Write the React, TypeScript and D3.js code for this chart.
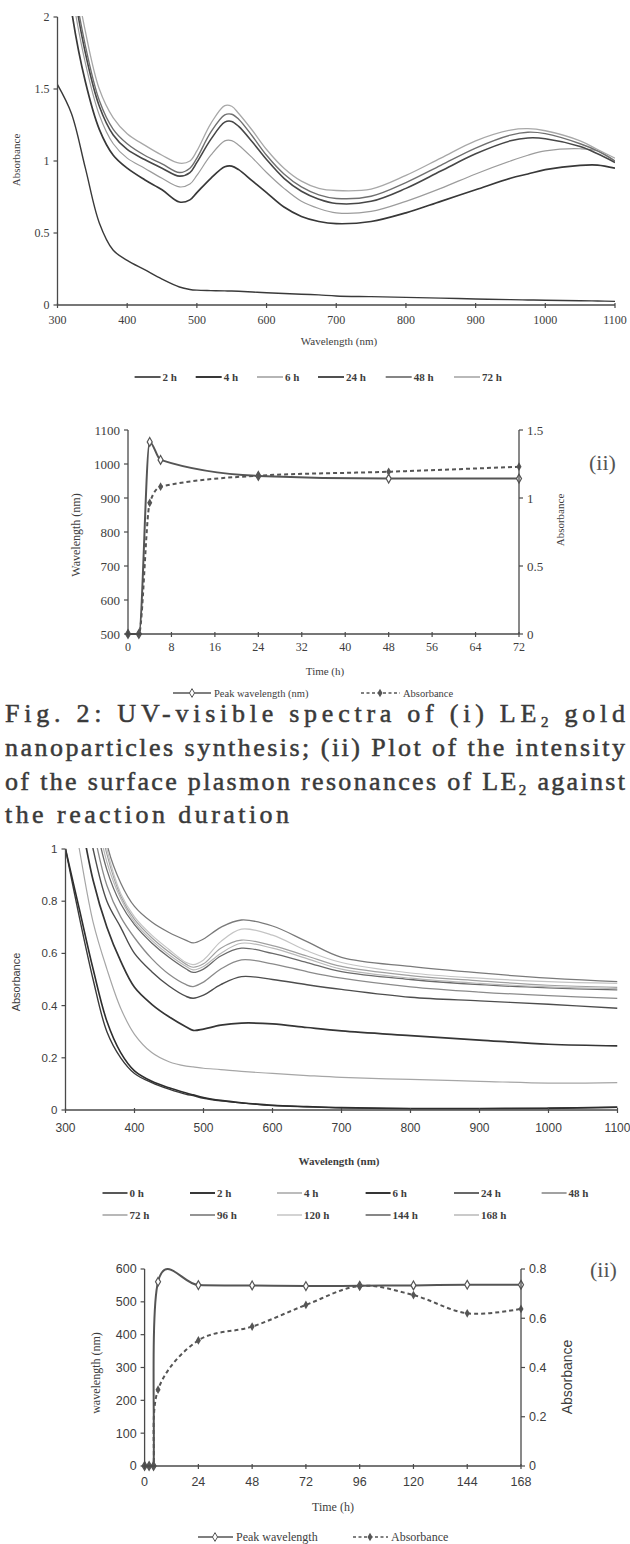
import React from 'react';
import * as d3 from 'd3';

// ---------- Chart (i): LE2 spectra ----------
const wl1 = [300, 320, 340, 360, 380, 400, 425, 450, 475, 490, 500, 520, 540, 550, 560, 580, 600, 625, 650, 675, 700, 750, 800, 850, 900, 950, 975, 1000, 1050, 1075, 1100];
const le2_2h = [1.53, 1.33, 0.95, 0.57, 0.38, 0.31, 0.245, 0.18, 0.125, 0.108, 0.103, 0.1, 0.098, 0.097, 0.095, 0.09, 0.085, 0.08, 0.075, 0.07, 0.063, 0.058, 0.053, 0.048, 0.042, 0.037, 0.035, 0.033, 0.03, 0.028, 0.025];
const le2_4h = [2.9, 2.05, 1.55, 1.22, 1.04, 0.95, 0.87, 0.8, 0.715, 0.73, 0.78, 0.88, 0.96, 0.965, 0.94, 0.86, 0.78, 0.68, 0.615, 0.58, 0.565, 0.58, 0.64, 0.72, 0.8, 0.88, 0.91, 0.94, 0.97, 0.972, 0.95];
const le2_6h = [3.0, 2.2, 1.68, 1.32, 1.12, 1.02, 0.95, 0.88, 0.82, 0.84, 0.9, 1.04, 1.14, 1.142, 1.11, 1.02, 0.92, 0.81, 0.72, 0.67, 0.64, 0.65, 0.72, 0.81, 0.91, 1.0, 1.04, 1.07, 1.085, 1.07, 1.0];
const le2_24h = [3.1, 2.3, 1.75, 1.38, 1.18, 1.08, 1.01, 0.95, 0.895, 0.92, 0.99, 1.15, 1.27, 1.275, 1.24, 1.13, 1.01, 0.88, 0.79, 0.735, 0.705, 0.72, 0.81, 0.93, 1.05, 1.14, 1.16, 1.155, 1.1, 1.05, 0.99];
const le2_48h = [3.2, 2.35, 1.8, 1.42, 1.22, 1.12, 1.04, 0.98, 0.92, 0.95, 1.02, 1.2, 1.32, 1.325, 1.29, 1.17, 1.04, 0.91, 0.82, 0.765, 0.74, 0.755, 0.85, 0.97, 1.09, 1.18, 1.2, 1.19, 1.12, 1.07, 1.0];
const le2_72h = [3.3, 2.45, 1.9, 1.5, 1.3, 1.19, 1.11, 1.04, 0.985, 1.0, 1.07, 1.26, 1.385, 1.38, 1.33, 1.21, 1.08, 0.95, 0.86, 0.81, 0.795, 0.805, 0.9, 1.02, 1.14, 1.215, 1.225, 1.21, 1.14, 1.08, 1.02];
const legend1 = ['2 h', '4 h', '6 h', '24 h', '48 h', '72 h'];
const xTicks1 = [300, 400, 500, 600, 700, 800, 900, 1000, 1100];
const yTicks1 = [0, 0.5, 1, 1.5, 2];

// ---------- Chart (ii) for LE2 ----------
const time2 = [0, 2, 4, 6, 24, 48, 72];
const peak2 = [500, 500, 1065, 1012, 965, 957, 957];
const abs2 = [0, 0, 0.965, 1.083, 1.164, 1.193, 1.23];
const xTicks2 = [0, 8, 16, 24, 32, 40, 48, 56, 64, 72];
const yTicksL2 = [500, 600, 700, 800, 900, 1000, 1100];
const yTicksR2 = [0, 0.5, 1, 1.5];

// ---------- Chart 3: spectra 0-168 h ----------
const wl3 = [300, 320, 340, 360, 380, 400, 425, 450, 475, 485, 500, 525, 555, 600, 650, 700, 800, 900, 1000, 1100];
const s3_0h = [1.0, 0.74, 0.5, 0.3, 0.2, 0.14, 0.105, 0.08, 0.06, 0.055, 0.045, 0.035, 0.027, 0.017, 0.012, 0.008, 0.005, 0.005, 0.006, 0.01];
const s3_2h = [1.0, 0.77, 0.54, 0.34, 0.22, 0.15, 0.11, 0.085, 0.065, 0.058, 0.048, 0.037, 0.028, 0.018, 0.013, 0.009, 0.006, 0.006, 0.007, 0.011];
const s3_4h = [1.3, 1.0, 0.72, 0.54, 0.39, 0.29, 0.22, 0.185, 0.168, 0.165, 0.16, 0.155, 0.148, 0.14, 0.132, 0.125, 0.117, 0.11, 0.103, 0.105];
const s3_6h = [1.45, 1.15, 0.88, 0.7, 0.57, 0.47, 0.405, 0.357, 0.318, 0.305, 0.31, 0.325, 0.333, 0.33, 0.316, 0.303, 0.285, 0.268, 0.252, 0.246];
const s3_24h = [1.6, 1.3, 1.0, 0.8, 0.7, 0.6, 0.53, 0.475, 0.435, 0.428, 0.44, 0.48, 0.511, 0.5, 0.48, 0.462, 0.432, 0.418, 0.405, 0.39];
const s3_48h = [1.7, 1.4, 1.08, 0.86, 0.74, 0.66, 0.58, 0.52, 0.48, 0.473, 0.49, 0.54, 0.575, 0.56, 0.53, 0.505, 0.472, 0.452, 0.438, 0.428];
const s3_72h = [1.9, 1.6, 1.25, 0.98, 0.82, 0.73, 0.66, 0.605, 0.558, 0.547, 0.56, 0.62, 0.651, 0.63, 0.59, 0.55, 0.515, 0.495, 0.478, 0.47];
const s3_96h = [2.1, 1.8, 1.45, 1.02, 0.87, 0.78, 0.72, 0.68, 0.65, 0.64, 0.655, 0.7, 0.728, 0.705, 0.645, 0.585, 0.55, 0.525, 0.505, 0.492];
const s3_120h = [1.95, 1.65, 1.3, 1.0, 0.83, 0.74, 0.67, 0.615, 0.565, 0.557, 0.575, 0.645, 0.693, 0.67, 0.61, 0.565, 0.525, 0.505, 0.492, 0.485];
const s3_144h = [1.8, 1.5, 1.15, 0.92, 0.79, 0.71, 0.64, 0.585, 0.54, 0.527, 0.54, 0.59, 0.62, 0.6, 0.565, 0.53, 0.5, 0.48, 0.468, 0.46];
const s3_168h = [1.85, 1.55, 1.2, 0.95, 0.81, 0.72, 0.65, 0.595, 0.55, 0.537, 0.55, 0.6, 0.639, 0.62, 0.58, 0.54, 0.505, 0.485, 0.472, 0.465];
const legend3 = ['0 h', '2 h', '4 h', '6 h', '24 h', '48 h', '72 h', '96 h', '120 h', '144 h', '168 h'];
const xTicks3 = [300, 400, 500, 600, 700, 800, 900, 1000, 1100];
const yTicks3 = [0, 0.2, 0.4, 0.6, 0.8, 1];

// ---------- Chart 4: (ii) for 0-168 h ----------
const time4 = [0, 2, 4, 6, 24, 48, 72, 96, 120, 144, 168];
const peak4 = [0, 0, 0, 561, 551, 550, 548, 549, 550, 552, 552];
const abs4 = [0, 0, 0, 0.31, 0.51, 0.566, 0.654, 0.731, 0.694, 0.62, 0.638];
const xTicks4 = [0, 24, 48, 72, 96, 120, 144, 168];
const yTicksL4 = [0, 100, 200, 300, 400, 500, 600];
const yTicksR4 = [0, 0.2, 0.4, 0.6, 0.8];

const AX = '#4a4a4a';
const TXT = '#3d3d3d';
const SERIF = '"Liberation Serif", "Times New Roman", serif';
const SANS = '"Liberation Sans", Arial, sans-serif';

type Scale = d3.ScaleLinear<number, number>;

function YAxis({ scale, x, ticks, side, fmt, font, fs }: { scale: Scale; x: number; ticks: number[]; side: 'left' | 'right'; fmt: (v: number) => string; font: string; fs: number }) {
  const dir = side === 'left' ? -1 : 1;
  const [r0, r1] = scale.range();
  return (
    <g>
      <line x1={x} x2={x} y1={r0} y2={r1} stroke={AX} strokeWidth={1.3} />
      {ticks.map((t) => (
        <g key={t}>
          <line x1={x} x2={x + dir * 4} y1={scale(t)} y2={scale(t)} stroke={AX} strokeWidth={1.2} />
          <text x={x + dir * 8} y={scale(t)} dy="0.35em" textAnchor={side === 'left' ? 'end' : 'start'} fontFamily={font} fontSize={fs} fill={TXT}>
            {fmt(t)}
          </text>
        </g>
      ))}
    </g>
  );
}

function XAxis({ scale, y, ticks, font, fs, labelY }: { scale: Scale; y: number; ticks: number[]; font: string; fs: number; labelY: number }) {
  const [r0, r1] = scale.range();
  return (
    <g>
      <line x1={r0} x2={r1} y1={y} y2={y} stroke={AX} strokeWidth={1.3} />
      {ticks.map((t) => (
        <g key={t}>
          <line x1={scale(t)} x2={scale(t)} y1={y - 2} y2={y + 3} stroke={AX} strokeWidth={1.2} />
          <text x={scale(t)} y={labelY} textAnchor="middle" fontFamily={font} fontSize={fs} fill={TXT}>
            {t}
          </text>
        </g>
      ))}
    </g>
  );
}

const diamond = d3.symbol(d3.symbolDiamond, 22)() as string;

export default function App() {
  // scales
  const x1 = d3.scaleLinear().domain([300, 1100]).range([57.5, 615]);
  const y1 = d3.scaleLinear().domain([0, 2]).range([305, 17]);
  const x2 = d3.scaleLinear().domain([0, 72]).range([128, 519]);
  const yL2 = d3.scaleLinear().domain([500, 1100]).range([634, 430]);
  const yR2 = d3.scaleLinear().domain([0, 1.5]).range([634, 430]);
  const x3 = d3.scaleLinear().domain([300, 1100]).range([65.5, 617.5]);
  const y3 = d3.scaleLinear().domain([0, 1]).range([1110, 849]);
  const x4 = d3.scaleLinear().domain([0, 168]).range([144.6, 521]);
  const yL4 = d3.scaleLinear().domain([0, 600]).range([1466, 1269]);
  const yR4 = d3.scaleLinear().domain([0, 0.8]).range([1466, 1269]);

  const series1 = [
    { name: legend1[0], v: le2_2h, c: '#3a3a3a', w: 1.4 },
    { name: legend1[1], v: le2_4h, c: '#383838', w: 1.7 },
    { name: legend1[2], v: le2_6h, c: '#9c9c9c', w: 1.2 },
    { name: legend1[3], v: le2_24h, c: '#474747', w: 1.6 },
    { name: legend1[4], v: le2_48h, c: '#707070', w: 1.4 },
    { name: legend1[5], v: le2_72h, c: '#a8a8a8', w: 1.3 },
  ];
  const line1 = d3.line<number>().x((_, i) => x1(wl1[i])).y((d) => y1(d)).curve(d3.curveCatmullRom);

  const series3 = [
    { name: legend3[0], v: s3_0h, c: '#3a3a3a', w: 1.4 },
    { name: legend3[1], v: s3_2h, c: '#2e2e2e', w: 1.6 },
    { name: legend3[2], v: s3_4h, c: '#a6a6a6', w: 1.2 },
    { name: legend3[3], v: s3_6h, c: '#353535', w: 1.7 },
    { name: legend3[4], v: s3_24h, c: '#4d4d4d', w: 1.4 },
    { name: legend3[5], v: s3_48h, c: '#8a8a8a', w: 1.3 },
    { name: legend3[6], v: s3_72h, c: '#a0a0a0', w: 1.2 },
    { name: legend3[7], v: s3_96h, c: '#7a7a7a', w: 1.3 },
    { name: legend3[8], v: s3_120h, c: '#c4c4c4', w: 1.2 },
    { name: legend3[9], v: s3_144h, c: '#6a6a6a', w: 1.3 },
    { name: legend3[10], v: s3_168h, c: '#b8b8b8', w: 1.2 },
  ];
  const line3 = d3.line<number>().x((_, i) => x3(wl3[i])).y((d) => y3(d)).curve(d3.curveCatmullRom);

  const smooth = d3.curveCardinal.tension(0);
  const peakLine2 = d3.line<number>().x((_, i) => x2(time2[i])).y((d) => yL2(d)).curve(d3.curveMonotoneX);
  const absLine2 = d3.line<number>().x((_, i) => x2(time2[i])).y((d) => yR2(d)).curve(d3.curveMonotoneX);
  const peakLine4 = d3.line<number>().x((_, i) => x4(time4[i])).y((d) => yL4(d)).curve(smooth);
  const absLine4 = d3.line<number>().x((_, i) => x4(time4[i])).y((d) => yR4(d)).curve(smooth);

  const legend1X = [134.6, 195.7, 257, 318, 385.7, 454];
  const legend3X = [102.5, 190, 277, 365.6, 454, 541.6];

  const fmtDec = (v: number) => String(+v.toFixed(1));

  const LINE_C = '#555';

  return (
    <div style={{ position: 'absolute', left: 0, top: 0 }}>
      <svg width={630} height={1544} viewBox="0 0 630 1544" style={{ display: 'block', background: '#fff' }}>
        <defs>
          <clipPath id="c1"><rect x={57.5} y={16} width={557.5} height={290} /></clipPath>
          <clipPath id="c2"><rect x={128} y={425} width={391} height={210} /></clipPath>
          <clipPath id="c3"><rect x={65.5} y={848} width={552} height={263} /></clipPath>
          <clipPath id="c4"><rect x={144.6} y={1260} width={376.4} height={207} /></clipPath>
        </defs>

        {/* ===== Chart 1 ===== */}
        <g clipPath="url(#c1)">
          {series1.map((s) => (
            <path key={s.name} d={line1(s.v) as string} fill="none" stroke={s.c} strokeWidth={s.w} />
          ))}
        </g>
        <YAxis scale={y1} x={57.5} ticks={yTicks1} side="left" fmt={fmtDec} font={SERIF} fs={12} />
        <XAxis scale={x1} y={305} ticks={xTicks1} font={SERIF} fs={12} labelY={324} />
        <text transform="translate(20,160) rotate(-90)" textAnchor="middle" fontFamily={SERIF} fontSize={11} fill={TXT}>Absorbance</text>
        <text x={339} y={345} textAnchor="middle" fontFamily={SERIF} fontSize={11} fill={TXT}>Wavelength (nm)</text>
        {series1.map((s, i) => (
          <g key={s.name}>
            <line x1={legend1X[i]} x2={legend1X[i] + 26} y1={377} y2={377} stroke={s.c} strokeWidth={s.w + 0.3} />
            <text x={legend1X[i] + 28} y={381} fontFamily={SERIF} fontSize={11} fontWeight="bold" fill={TXT}>{s.name}</text>
          </g>
        ))}

        {/* ===== Chart 2 ===== */}
        <g clipPath="url(#c2)">
          <path d={peakLine2(peak2) as string} fill="none" stroke={LINE_C} strokeWidth={2} />
          <path d={absLine2(abs2) as string} fill="none" stroke={LINE_C} strokeWidth={2} strokeDasharray="4,3" />
        </g>
        {peak2.map((v, i) => (
          <path key={'p2' + i} d={diamond} transform={`translate(${x2(time2[i])},${yL2(v)})`} fill="#fff" stroke={LINE_C} strokeWidth={1.2} />
        ))}
        {abs2.map((v, i) => (
          <path key={'a2' + i} d={diamond} transform={`translate(${x2(time2[i])},${yR2(v)})`} fill={LINE_C} />
        ))}
        <YAxis scale={yL2} x={128} ticks={yTicksL2} side="left" fmt={(v) => String(v)} font={SERIF} fs={13} />
        <YAxis scale={yR2} x={519} ticks={yTicksR2} side="right" fmt={fmtDec} font={SERIF} fs={13} />
        <XAxis scale={x2} y={634} ticks={xTicks2} font={SERIF} fs={12} labelY={651} />
        <text transform="translate(80,535) rotate(-90)" textAnchor="middle" fontFamily={SERIF} fontSize={12} fill={TXT}>Wavelength (nm)</text>
        <text transform="translate(564,520) rotate(-90)" textAnchor="middle" fontFamily={SERIF} fontSize={11} fill={TXT}>Absorbance</text>
        <text x={325} y={675} textAnchor="middle" fontFamily={SERIF} fontSize={11} fill={TXT}>Time (h)</text>
        <text x={589} y={470} fontFamily={SERIF} fontSize={22} fill="#555">(ii)</text>
        <g>
          <line x1={173} x2={211} y1={693} y2={693} stroke={LINE_C} strokeWidth={1.6} />
          <path d={diamond} transform="translate(192,693)" fill="#fff" stroke={LINE_C} strokeWidth={1} />
          <text x={214} y={697} fontFamily={SERIF} fontSize={10.5} fill={TXT}>Peak wavelength (nm)</text>
          <line x1={361} x2={400} y1={693} y2={693} stroke={LINE_C} strokeWidth={1.6} strokeDasharray="3,2.5" />
          <path d={diamond} transform="translate(380,693)" fill={LINE_C} />
          <text x={403} y={697} fontFamily={SERIF} fontSize={10.5} fill={TXT}>Absorbance</text>
        </g>

        {/* ===== Caption ===== */}
        <g fontFamily={SERIF} fontSize={26} fill="#3a3a3a" stroke="#3a3a3a" strokeWidth={0.5}>
          <text x={5} y={722} textLength={620} lengthAdjust="spacing">
            Fig. 2: UV-visible spectra of (i) LE<tspan fontSize={15} dy={5}>2</tspan><tspan dy={-5}> gold</tspan>
          </text>
          <text x={5} y={756} textLength={620} lengthAdjust="spacing">nanoparticles synthesis; (ii) Plot of the intensity</text>
          <text x={5} y={790} textLength={620} lengthAdjust="spacing">
            of the surface plasmon resonances of LE<tspan fontSize={15} dy={5}>2</tspan><tspan dy={-5}> against</tspan>
          </text>
          <text x={5} y={823} textLength={284} lengthAdjust="spacing">the reaction duration</text>
        </g>

        {/* ===== Chart 3 ===== */}
        <g clipPath="url(#c3)">
          {series3.map((s) => (
            <path key={s.name} d={line3(s.v) as string} fill="none" stroke={s.c} strokeWidth={s.w} />
          ))}
        </g>
        <YAxis scale={y3} x={65.5} ticks={yTicks3} side="left" fmt={fmtDec} font={SANS} fs={11.5} />
        <XAxis scale={x3} y={1110} ticks={xTicks3} font={SANS} fs={12} labelY={1132} />
        <text transform="translate(20,982) rotate(-90)" textAnchor="middle" fontFamily={SANS} fontSize={11} fill={TXT}>Absorbance</text>
        <text x={339} y={1165} textAnchor="middle" fontFamily={SERIF} fontSize={11} fontWeight="bold" fill={TXT}>Wavelength (nm)</text>
        {series3.map((s, i) => {
          const row = i < 6 ? 0 : 1;
          const col = i < 6 ? i : i - 6;
          const lx = legend3X[col];
          const ly = row === 0 ? 1193 : 1215;
          return (
            <g key={s.name}>
              <line x1={lx} x2={lx + 25} y1={ly} y2={ly} stroke={s.c} strokeWidth={s.w + 0.3} />
              <text x={lx + 27} y={ly + 4} fontFamily={SERIF} fontSize={11} fontWeight="bold" fill={TXT}>{s.name}</text>
            </g>
          );
        })}

        {/* ===== Chart 4 ===== */}
        <g clipPath="url(#c4)">
          <path d={peakLine4(peak4) as string} fill="none" stroke={LINE_C} strokeWidth={2} />
          <path d={absLine4(abs4) as string} fill="none" stroke={LINE_C} strokeWidth={2} strokeDasharray="4,3" />
        </g>
        {peak4.map((v, i) => (
          <path key={'p4' + i} d={diamond} transform={`translate(${x4(time4[i])},${yL4(v)})`} fill="#fff" stroke={LINE_C} strokeWidth={1.2} />
        ))}
        {abs4.map((v, i) => (
          <path key={'a4' + i} d={diamond} transform={`translate(${x4(time4[i])},${yR4(v)})`} fill={LINE_C} />
        ))}
        <YAxis scale={yL4} x={144.6} ticks={yTicksL4} side="left" fmt={(v) => String(v)} font={SANS} fs={12.5} />
        <YAxis scale={yR4} x={521} ticks={yTicksR4} side="right" fmt={fmtDec} font={SANS} fs={12.5} />
        <XAxis scale={x4} y={1466} ticks={xTicks4} font={SANS} fs={12.5} labelY={1486} />
        <text transform="translate(100,1373) rotate(-90)" textAnchor="middle" fontFamily={SERIF} fontSize={12} fill={TXT}>wavelength (nm)</text>
        <text transform="translate(572,1377) rotate(-90)" textAnchor="middle" fontFamily={SANS} fontSize={14} fill={TXT}>Absorbance</text>
        <text x={333} y={1511} textAnchor="middle" fontFamily={SERIF} fontSize={12} fill={TXT}>Time (h)</text>
        <text x={590} y={1277} fontFamily={SERIF} fontSize={22} fill="#555">(ii)</text>
        <g>
          <line x1={198} x2={233} y1={1537} y2={1537} stroke={LINE_C} strokeWidth={1.6} />
          <path d={diamond} transform="translate(215,1537)" fill="#fff" stroke={LINE_C} strokeWidth={1} />
          <text x={236} y={1541} fontFamily={SERIF} fontSize={12} fill={TXT}>Peak wavelength</text>
          <line x1={353} x2={388} y1={1537} y2={1537} stroke={LINE_C} strokeWidth={1.6} strokeDasharray="3,2.5" />
          <path d={diamond} transform="translate(370,1537)" fill={LINE_C} />
          <text x={391} y={1541} fontFamily={SERIF} fontSize={12} fill={TXT}>Absorbance</text>
        </g>
      </svg>
    </div>
  );
}
